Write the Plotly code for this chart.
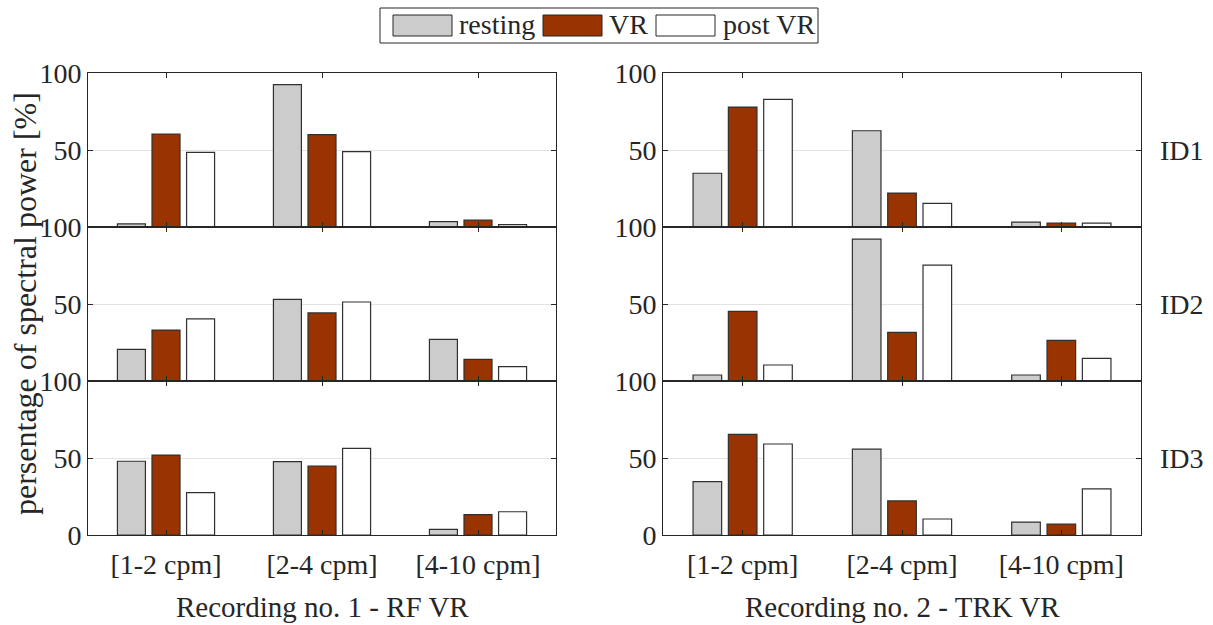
import plotly.graph_objects as go
from plotly.subplots import make_subplots

# Frequency bands (categories)
bands = ["[1-2 cpm]", "[2-4 cpm]", "[4-10 cpm]"]
conditions = ["resting", "VR", "post VR"]
condition_colors = ["#cccccc", "#993300", "#ffffff"]
subjects = ["ID1", "ID2", "ID3"]
recordings = ["Recording no. 1 - RF VR", "Recording no. 2 - TRK VR"]

# Percentage of spectral power, one row per subject (ID1, ID2, ID3)
rec1_resting = [[2.0, 92.4, 3.5], [20.6, 53.0, 27.0], [47.9, 47.6, 3.7]]
rec1_vr = [[60.4, 60.0, 4.5], [33.1, 44.2, 14.0], [51.9, 44.8, 13.2]]
rec1_post = [[48.5, 49.0, 1.5], [40.3, 51.3, 9.3], [27.5, 56.3, 15.1]]

rec2_resting = [[34.9, 62.5, 3.2], [3.9, 92.1, 3.9], [34.6, 55.8, 8.4]]
rec2_vr = [[77.9, 22.0, 2.5], [45.2, 31.6, 26.4], [65.4, 22.1, 7.1]]
rec2_post = [[82.9, 15.4, 2.5], [10.4, 75.3, 14.7], [59.1, 10.4, 29.9]]

data = [
    [rec1_resting, rec1_vr, rec1_post],
    [rec2_resting, rec2_vr, rec2_post],
]

FONT = "Liberation Serif"
INK = "#262626"
W, H = 1213, 625
L, R, T, B = 88, 72, 73, 90
PW, PH = W - L - R, H - T - B


def px_x(x):
    return (x - L) / PW


def px_y(y):
    return (H - B - y) / PH


fig = make_subplots(rows=3, cols=2, horizontal_spacing=0.1, vertical_spacing=0)

for c in range(2):
    for r in range(3):
        for k, name in enumerate(conditions):
            fig.add_trace(
                go.Bar(
                    x=bands,
                    y=data[c][k][r],
                    name=name,
                    marker=dict(color=condition_colors[k],
                                line=dict(color="#303030", width=1.2)),
                    showlegend=False,
                ),
                row=r + 1, col=c + 1,
            )

x_domains = [[0.0, px_x(556)], [px_x(663), 1.0]]
y_domains = [[2 / 3, 1.0], [1 / 3, 2 / 3], [0.0, 1 / 3]]

for c in range(2):
    for r in range(3):
        fig.update_xaxes(
            domain=x_domains[c], type="category",
            ticks="inside", ticklen=5, tickcolor=INK,
            showline=True, linecolor=INK, linewidth=1, mirror="ticks",
            showgrid=False, zeroline=False,
            showticklabels=(r == 2), ticklabelstandoff=4,
            tickfont=dict(family=FONT, size=28, color=INK),
            row=r + 1, col=c + 1,
        )
        fig.update_yaxes(
            domain=y_domains[r], range=[0, 100],
            tickvals=[0, 50, 100] if r == 2 else [50, 100],
            ticks="inside", ticklen=5, tickcolor=INK,
            showline=True, linecolor=INK, linewidth=1, mirror="ticks",
            showgrid=True, gridcolor="#e3e3e3", gridwidth=1, zeroline=False,
            tickfont=dict(family=FONT, size=28, color=INK),
            row=r + 1, col=c + 1,
        )


def label(text, x, y, size, **kw):
    opts = dict(text=text, xref="paper", yref="paper", x=x, y=y,
                xanchor="center", yanchor="middle", showarrow=False,
                font=dict(family=FONT, size=size, color=INK))
    opts.update(kw)
    return opts


annotations = []
# subject labels on the right
for r, sid in enumerate(subjects):
    annotations.append(label(sid, px_x(1182),
                             (y_domains[r][0] + y_domains[r][1]) / 2, 28))
# recording titles under each column
for c, title in enumerate(recordings):
    annotations.append(label(title, (x_domains[c][0] + x_domains[c][1]) / 2,
                             px_y(607), 29))
# shared y title
annotations.append(label("persentage of spectral power [%]", px_x(25), 0.5,
                         32, textangle=-90))

# legend box with wide swatches
shapes = [dict(type="rect", xref="paper", yref="paper",
               x0=px_x(380), x1=px_x(818), y0=px_y(43), y1=px_y(8),
               line=dict(color=INK, width=1), fillcolor="white")]
swatch_x = [393, 543, 656]
text_x = [457, 607, 721]
for k, name in enumerate(conditions):
    shapes.append(dict(type="rect", xref="paper", yref="paper",
                       x0=px_x(swatch_x[k]), x1=px_x(swatch_x[k] + 59),
                       y0=px_y(36), y1=px_y(15),
                       line=dict(color=INK, width=1),
                       fillcolor=condition_colors[k]))
    annotations.append(label(name, px_x(text_x[k]), px_y(25), 28,
                             xanchor="left"))

fig.update_layout(
    width=W, height=H,
    margin=dict(l=L, r=R, t=T, b=B),
    barmode="group", bargap=0.335, bargroupgap=0.19,
    plot_bgcolor="white", paper_bgcolor="white",
    font=dict(family=FONT, color=INK),
    annotations=annotations, shapes=shapes,
    showlegend=False,
)

fig.write_html("out.html")
